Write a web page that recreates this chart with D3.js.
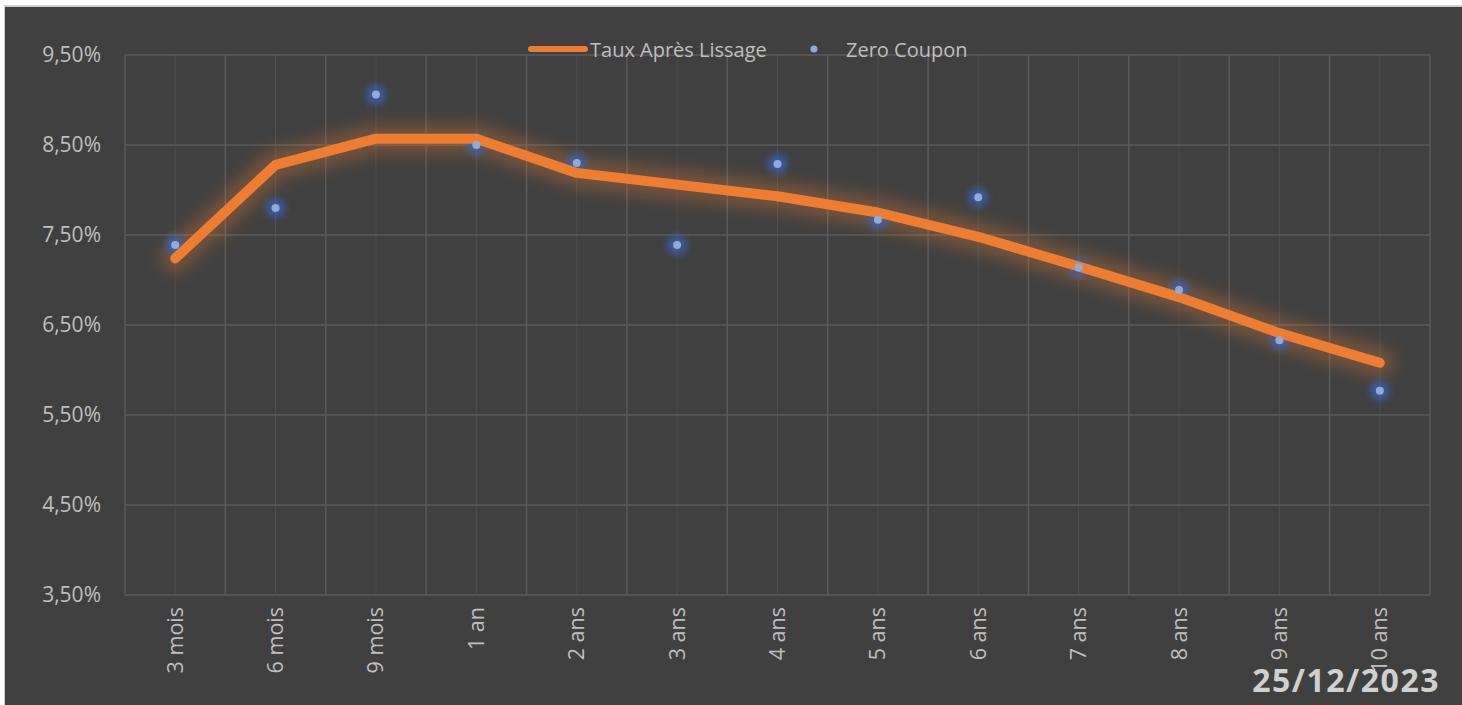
<!DOCTYPE html>
<html>
<head>
<meta charset="utf-8">
<script src="https://cdn.jsdelivr.net/npm/d3@7"></script>
<style>
  html, body { margin: 0; padding: 0; background: #ffffff; }
  svg { display: block; }
</style>
</head>
<body>
<svg id="chart" width="1462" height="705"></svg>
<script>
const categories = ["3 mois","6 mois","9 mois","1 an","2 ans","3 ans","4 ans","5 ans","6 ans","7 ans","8 ans","9 ans","10 ans"];
const tauxLissage = [7.24, 8.28, 8.57, 8.57, 8.19, 8.06, 7.93, 7.75, 7.48, 7.15, 6.81, 6.41, 6.08];
const zeroCoupon = [7.39, 7.80, 9.06, 8.50, 8.30, 7.39, 8.29, 7.67, 7.92, 7.14, 6.89, 6.33, 5.77];
const yTicks = [3.5, 4.5, 5.5, 6.5, 7.5, 8.5, 9.5];
const seriesNames = ["Taux Après Lissage", "Zero Coupon"];
const dateLabel = "25/12/2023";

const W = 1462, H = 705;
const m = {left: 125, right: 1430, top: 55, bottom: 595};
const svg = d3.select("#chart");
const font = "'Open Sans', 'Noto Sans', sans-serif";

// background frame
svg.append("rect").attr("x", 0).attr("y", 0).attr("width", W).attr("height", H).attr("fill", "#ffffff");
svg.append("rect").attr("x", 4).attr("y", 5).attr("width", W - 4).attr("height", H - 5).attr("fill", "#d0d0d0");
svg.append("rect").attr("x", 5).attr("y", 7).attr("width", W - 5).attr("height", H - 7).attr("fill", "#404040");

const defs = svg.append("defs");
const f1 = defs.append("filter").attr("id", "glowO").attr("x", "-20%").attr("y", "-60%").attr("width", "140%").attr("height", "220%");
f1.append("feGaussianBlur").attr("stdDeviation", 8);
const f2 = defs.append("filter").attr("id", "glowB").attr("x", "-150%").attr("y", "-150%").attr("width", "400%").attr("height", "400%");
f2.append("feGaussianBlur").attr("stdDeviation", 3.5);

const x = d3.scaleBand().domain(categories).range([m.left, m.right]).padding(0);
const y = d3.scaleLinear().domain([3.5, 9.5]).range([m.bottom, m.top]);
const cx = d => x(d) + x.bandwidth() / 2;

// minor vertical grid (centers)
const g = svg.append("g");
g.selectAll("line.minor").data(categories).join("line")
  .attr("x1", d => cx(d)).attr("x2", d => cx(d))
  .attr("y1", m.top).attr("y2", m.bottom)
  .attr("stroke", "#4e4e4e").attr("stroke-width", 1);
// major vertical grid (band boundaries)
const bounds = categories.map(c => x(c)).concat([m.right]);
g.selectAll("line.major").data(bounds).join("line")
  .attr("x1", d => d).attr("x2", d => d)
  .attr("y1", m.top).attr("y2", m.bottom)
  .attr("stroke", "#5a5a5a").attr("stroke-width", 1.5);
// horizontal grid
g.selectAll("line.h").data(yTicks).join("line")
  .attr("x1", m.left).attr("x2", m.right)
  .attr("y1", d => y(d)).attr("y2", d => y(d))
  .attr("stroke", "#5a5a5a").attr("stroke-width", 1.5);

// Y axis
const fmt = v => d3.format(".2f")(v).replace(".", ",") + "%";
const yAxis = d3.axisLeft(y).tickValues(yTicks).tickFormat(fmt).tickSize(0).tickPadding(24);
const ya = svg.append("g").attr("transform", `translate(${m.left},0)`).call(yAxis);
ya.select(".domain").remove();
ya.selectAll("text").attr("fill", "#bfbfbf").style("font-family", font).style("font-size", "21px");

// X axis
const xAxis = d3.axisBottom(x).tickSize(0).tickPadding(0);
const xa = svg.append("g").attr("transform", `translate(0,${m.bottom})`).call(xAxis);
xa.select(".domain").remove();
xa.selectAll("text")
  .attr("fill", "#bfbfbf").style("font-family", font).style("font-size", "21.5px")
  .attr("text-anchor", "end").attr("dy", "0.35em")
  .attr("transform", "translate(0,12) rotate(-90)")
  .attr("x", 0).attr("y", 0);

// line glow + line
const line = d3.line().x((d, i) => cx(categories[i])).y(d => y(d));
svg.append("path").datum(tauxLissage).attr("d", line)
  .attr("fill", "none").attr("stroke", "#ED7D31").attr("stroke-opacity", 0.3)
  .attr("stroke-width", 30).attr("stroke-linejoin", "round").attr("stroke-linecap", "round")
  .attr("filter", "url(#glowO)");

// points glow
svg.append("g").selectAll("circle").data(zeroCoupon).join("circle")
  .attr("cx", (d, i) => cx(categories[i])).attr("cy", d => y(d))
  .attr("r", 10).attr("fill", "#3A63B8").attr("fill-opacity", 0.75).attr("filter", "url(#glowB)");

svg.append("path").datum(tauxLissage).attr("d", line)
  .attr("fill", "none").attr("stroke", "#ED7D31")
  .attr("stroke-width", 10).attr("stroke-linejoin", "round").attr("stroke-linecap", "round");

svg.append("g").selectAll("circle").data(zeroCoupon).join("circle")
  .attr("cx", (d, i) => cx(categories[i])).attr("cy", d => y(d))
  .attr("r", 4).attr("fill", "#8FAADC");

// legend
const lg = svg.append("g");
lg.append("line").attr("x1", 531).attr("x2", 585).attr("y1", 49).attr("y2", 49)
  .attr("stroke", "#ED7D31").attr("stroke-width", 6).attr("stroke-linecap", "round");
lg.append("text").attr("x", 590).attr("y", 57).text(seriesNames[0])
  .attr("fill", "#bfbfbf").style("font-family", font).style("font-size", "20px");
lg.append("circle").attr("cx", 814).attr("cy", 49).attr("r", 3.5).attr("fill", "#8FAADC");
lg.append("text").attr("x", 846).attr("y", 57).text(seriesNames[1])
  .attr("fill", "#bfbfbf").style("font-family", font).style("font-size", "20px");

// date
svg.append("text").attr("x", 1440).attr("y", 692).attr("text-anchor", "end").text(dateLabel)
  .attr("fill", "#d0d0d0").style("font-family", font).style("font-size", "32px")
  .style("font-weight", "bold").style("letter-spacing", "1.5px");
</script>
</body>
</html>
